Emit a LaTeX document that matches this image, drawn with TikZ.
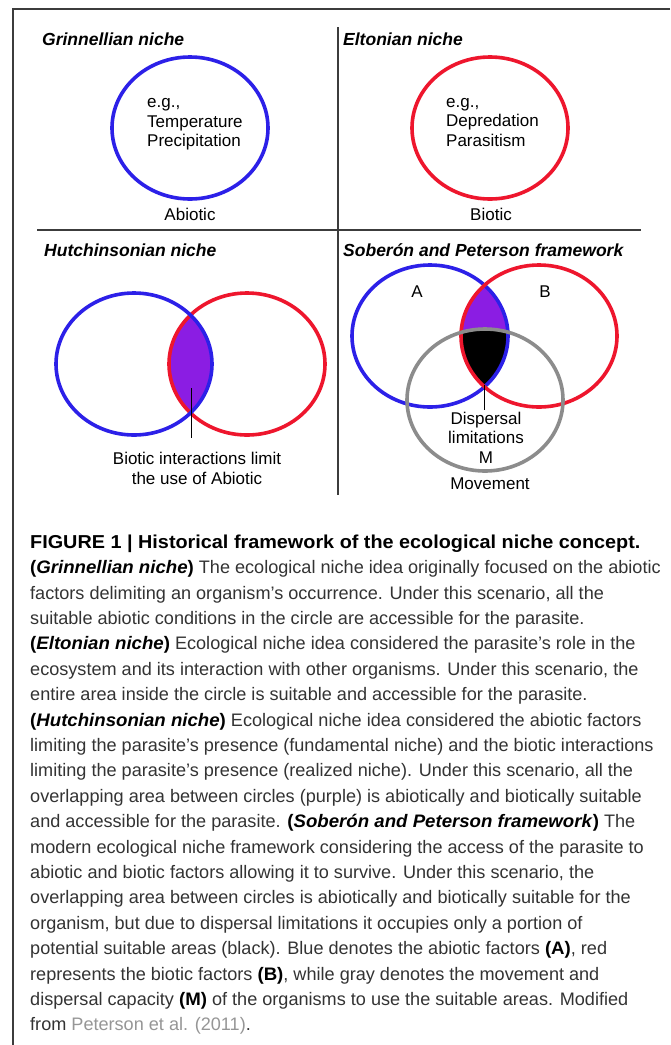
\documentclass[tikz,border=0pt]{standalone}
\usepackage{fontspec}
\setmainfont{Liberation Sans}
\newfontfamily\capfont{Liberation Sans}[BoldFeatures={FakeStretch=1.03}, BoldItalicFeatures={FakeStretch=1.03}]
\newfontfamily\capheadfont{Liberation Sans}[BoldFeatures={FakeStretch=1.06}]
\definecolor{abiocol}{RGB}{44,32,232}
\definecolor{biocol}{RGB}{238,22,45}
\definecolor{nichepurple}{RGB}{139,29,227}
\definecolor{movecol}{RGB}{140,140,140}
\definecolor{framecol}{RGB}{60,60,60}
\definecolor{linkcol}{RGB}{150,150,150}

\begin{document}
\begin{tikzpicture}[x=1pt,y=-1pt,
    oval/.style={x radius=78pt, y radius=71pt},
    abiotic/.style={draw=abiocol, line width=3.6pt},
    biotic/.style={draw=biocol, line width=3.6pt},
    movement/.style={draw=movecol, line width=3.6pt},
    divider/.style={draw=framecol, line width=1.1pt},
    leader/.style={draw=black, line width=1pt},
    paneltitle/.style={anchor=base west, inner sep=0pt, font=\fontsize{17.5}{20}\selectfont\bfseries\itshape},
    figtext/.style={inner sep=0pt, font=\fontsize{17}{19.5}\selectfont},
    capline/.style={anchor=base west, inner sep=0pt, text=black!80, font=\capfont\fontsize{18.1}{25.4}\selectfont}]

    \useasboundingbox[fill=white] (0,0) rectangle (670,1045);

    % frame and panel dividers
    \draw[framecol, line width=1.4pt] (670,9) -- (13,9) -- (13,1045);
    \draw[divider] (338,27) -- (338,495);
    \draw[divider] (37,230) -- (641,230);

    \node[paneltitle] (grintitle) at (42,45.2) {Grinnellian niche};
    \node[paneltitle] (elttitle) at (343,45.2) {Eltonian niche};
    \node[paneltitle] (hutchtitle) at (44,256.2) {Hutchinsonian niche};
    \node[paneltitle] (sobtitle) at (343,256.7) {Soberón and Peterson framework};

    % Grinnellian and Eltonian
    \coordinate (grin) at (190,128);
    \coordinate (elt) at (490,128);
    \draw[abiotic] (grin) ellipse [oval];
    \draw[biotic] (elt) ellipse [oval];
    \node[figtext, anchor=west, align=left] (grinex) at (147,124.2) {e.g.,\\Temperature\\Precipitation};
    \node[figtext, anchor=west, align=left] (eltex) at (446,122.4) {e.g.,\\Depredation\\Parasitism};
    \node[figtext, anchor=base] (abio) at (190,220.7) {Abiotic};
    \node[figtext, anchor=base] (bio) at (491,220.7) {Biotic};

    % Hutchinsonian
    \coordinate (ha) at (134,364);
    \coordinate (hb) at (247,364);
    \begin{scope}
        \clip (ha) ellipse [oval];
        \fill[nichepurple] (hb) ellipse [oval];
    \end{scope}
    \draw[biotic] (hb) ellipse [oval];
    \draw[abiotic] (ha) ellipse [oval];
    \coordinate (hutchtip) at (191,388);
    \coordinate (hutchfoot) at (191,438);
    \draw[leader] (hutchtip) -- (hutchfoot);
    \node[figtext, align=center] (bioint) at (197,468.4) {Biotic interactions limit\\the use of Abiotic};

    % Soberon and Peterson
    \coordinate (sa) at (430,336);
    \coordinate (sb) at (539,336);
    \coordinate (sm) at (485,400);
    \begin{scope}
        \clip (sa) ellipse [oval];
        \fill[nichepurple] (sb) ellipse [oval];
        \clip (sb) ellipse [oval];
        \fill[black] (sm) ellipse [oval];
    \end{scope}
    \draw[abiotic] (sa) ellipse [oval];
    \draw[biotic] (sb) ellipse [oval];
    \draw[movement] (sm) ellipse [oval];
    \node[figtext, anchor=base] (alab) at (417,297) {A};
    \node[figtext, anchor=base] (blab) at (545,297) {B};
    \coordinate (sobtip) at (484.5,385);
    \coordinate (sobfoot) at (484.5,410);
    \draw[leader] (sobtip) -- (sobfoot);
    \node[figtext, align=center] (displim) at (486,437.5) {Dispersal\\limitations\\M};
    \node[figtext, anchor=base] (move) at (490,489.3) {Movement};

    % caption
    \foreach \txt [count=\i from 0] in {
        {\textcolor{black}{\capheadfont\fontsize{18.7}{25.4}\selectfont\textbf{FIGURE 1 | Historical framework of the ecological niche concept.}}},
        {\textcolor{black}{\textbf{(\textit{Grinnellian niche})}} The ecological niche idea originally focused on the abiotic},
        {factors delimiting an organism’s occurrence. Under this scenario, all the},
        {suitable abiotic conditions in the circle are accessible for the parasite.},
        {\textcolor{black}{\textbf{(\textit{Eltonian niche})}} Ecological niche idea considered the parasite’s role in the},
        {ecosystem and its interaction with other organisms. Under this scenario, the},
        {entire area inside the circle is suitable and accessible for the parasite.},
        {\textcolor{black}{\textbf{(\textit{Hutchinsonian niche})}} Ecological niche idea considered the abiotic factors},
        {limiting the parasite’s presence (fundamental niche) and the biotic interactions},
        {limiting the parasite’s presence (realized niche). Under this scenario, all the},
        {overlapping area between circles (purple) is abiotically and biotically suitable},
        {and accessible for the parasite. \textcolor{black}{\textbf{(\textit{Soberón and Peterson framework})}} The},
        {modern ecological niche framework considering the access of the parasite to},
        {abiotic and biotic factors allowing it to survive. Under this scenario, the},
        {overlapping area between circles is abiotically and biotically suitable for the},
        {organism, but due to dispersal limitations it occupies only a portion of},
        {potential suitable areas (black). Blue denotes the abiotic factors \textcolor{black}{\textbf{(A)}}, red},
        {represents the biotic factors \textcolor{black}{\textbf{(B)}}, while gray denotes the movement and},
        {dispersal capacity \textcolor{black}{\textbf{(M)}} of the organisms to use the suitable areas. Modified},
        {from \textcolor{linkcol}{Peterson et al. (2011)}.}}
        \node[capline] (cap\i) at (30,548.3+25.4*\i) {\txt};

\end{tikzpicture}
\end{document}
